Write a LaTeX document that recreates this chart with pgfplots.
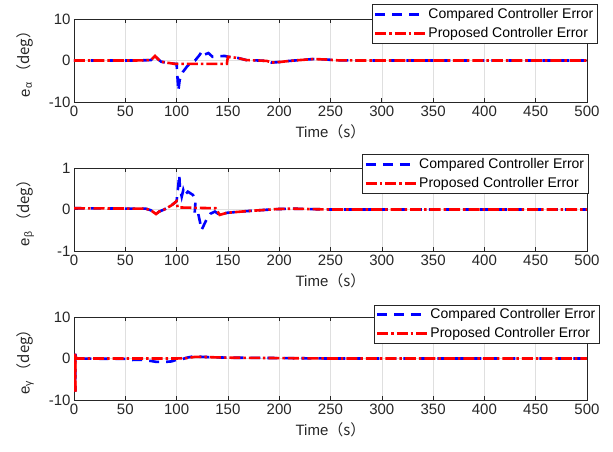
\documentclass[border=0pt]{standalone}
\usepackage{pgfplots}
\pgfplotsset{compat=1.18}
\usepackage{fontspec}
\setmainfont{Liberation Sans}
\newfontfamily\cjk{Noto Sans CJK SC}
\definecolor{axgray}{RGB}{38,38,38}
\definecolor{gridgray}{RGB}{223,223,223}
\pgfplotsset{
  panel/.style={
    scale only axis, width=513pt, height=83pt,
    xmin=0, xmax=500, xtick={0,50,...,500},
    tick align=inside, xmajorgrids, ymajorgrids,
    grid style={gridgray, line width=0.5pt},
    axis line style={axgray, line width=0.6pt},
    tick style={axgray, line width=0.6pt}, major tick length=4pt,
    ticklabel style={font=\fontsize{15}{17}\selectfont, text=axgray},
    /pgf/number format/assume math mode=true,
    xlabel={Time\cjk{（}s\cjk{）}},
    xlabel style={at={(axis description cs:0.5,-0.36)}, anchor=center,
      font=\fontsize{15}{17}\selectfont, text=axgray},
    ylabel style={at={(axis description cs:-0.095,0.5)}, anchor=center,
      font=\fontsize{15}{17}\selectfont, text=axgray},
    legend cell align=left,
    legend image code/.code={\draw[##1] (0pt,0pt) -- (50pt,0pt);},
    legend style={anchor=north west, draw=axgray, fill=white, line width=0.6pt,
      font=\fontsize{14}{17}\selectfont, inner sep=2pt, row sep=3pt},
  },
  cmp/.style={blue, line width=2.6pt, dash pattern=on 10pt off 7pt},
  prop/.style={red, line width=2.6pt, dash pattern=on 11pt off 3pt on 2.5pt off 3pt},
}

\begin{document}
\begin{tikzpicture}
\useasboundingbox (0,0) rectangle (613pt,451pt);

% e_alpha
\begin{axis}[panel, at={(74pt,349pt)}, anchor=south west,
  ymin=-10, ymax=10, ytick={-10,0,10}, yticklabels={-10,0,10},
  ylabel={e\textsubscript{α}\,\cjk{（}deg\cjk{）}},
  legend style={at={(axis description cs:0.58,1.175)}}]
  \addplot[cmp] coordinates {(0,0) (60,0) (75,0.1) (79,1.1) (82,0.3) (85,-0.3) (90,-0.5) (98,-0.8) (100,-0.8) (101.7,-7.3) (103,-4.7) (106,-2.8) (110,-1.5) (113,-0.7) (118,0) (122,1.2) (124.5,2.1) (126,1.3) (128,1.5) (131,1.8) (135,0.9) (140,1.0) (147,1.1) (150,0.9) (160,0.6) (168,0.1) (180,0) (188,-0.1) (192.6,-0.5) (201,-0.35) (210,-0.1) (220,0.1) (233,0.35) (245,0.25) (256,0.05) (280,0) (500,0)};
  \addlegendentry{Compared Controller Error}
  \addplot[prop] coordinates {(0,0) (60,0) (75,0.1) (79,1.1) (82,0.3) (85,-0.3) (90,-0.5) (98,-0.8) (149,-0.8) (150,0.9) (160,0.6) (168,0.1) (180,0) (188,-0.1) (192.6,-0.5) (201,-0.35) (210,-0.1) (220,0.1) (233,0.35) (245,0.25) (256,0.05) (280,0) (500,0)};
  \addlegendentry{Proposed Controller Error}
\end{axis}

% e_beta
\begin{axis}[panel, at={(74pt,200pt)}, anchor=south west,
  ymin=-1, ymax=1, ytick={-1,0,1}, yticklabels={-1,0,1},
  ylabel={e\textsubscript{β}\,\cjk{（}deg\cjk{）}},
  legend style={at={(axis description cs:0.562,1.163)}}]
  \addplot[cmp] coordinates {(0,0.03) (70,0.02) (75,-0.02) (80,-0.11) (83,-0.05) (88,0) (95,0.1) (100,0.2) (101.7,0.59) (102.6,0.83) (103.3,0.51) (105,0.31) (106.5,0.47) (108,0.35) (111,0.43) (116,0.35) (118.5,0.23) (117.5,-0.13) (121,-0.09) (124.4,-0.49) (129,-0.25) (133,-0.1) (137.4,-0.05) (142,-0.13) (149,-0.08) (168,-0.04) (197.5,0.01) (213,0.02) (230,0.01) (250,0) (500,0)};
  \addlegendentry{Compared Controller Error}
  \addplot[prop] coordinates {(0,0.03) (70,0.02) (75,-0.02) (80,-0.11) (83,-0.05) (88,0) (95,0.1) (100,0.2) (101,0.05) (138,0.03) (142,-0.13) (149,-0.08) (168,-0.04) (197.5,0.01) (213,0.02) (230,0.01) (250,0) (500,0)};
  \addlegendentry{Proposed Controller Error}
\end{axis}

% e_gamma
\begin{axis}[panel, at={(74pt,51pt)}, anchor=south west,
  ymin=-10, ymax=10, ytick={-10,0,10}, yticklabels={-10,0,10},
  ylabel={e\textsubscript{γ}\,\cjk{（}deg\cjk{）}},
  legend style={at={(axis description cs:0.584,1.15)}}]
  \addplot[cmp] coordinates {(1,1.2) (1.2,-8) (1.4,1) (2,0) (50,-0.1) (57,-0.35) (65,-0.3) (75,-0.6) (80,-0.8) (90,-0.8) (95,-0.7) (100,-0.3) (105,-0.2) (110,0.2) (116,0.5) (125,0.4) (135,0.3) (150,0.2) (200,0.1) (250,0) (500,0)};
  \addlegendentry{Compared Controller Error}
  \addplot[prop, solid, forget plot] coordinates {(1,1.2) (1.2,-8)};
  \addplot[prop] coordinates {(1.2,-8) (1.4,1) (2,0) (50,0) (100,0) (110,0.1) (118,0.4) (125,0.4) (135,0.3) (150,0.2) (200,0.1) (250,0) (500,0)};
  \addlegendentry{Proposed Controller Error}
\end{axis}
\end{tikzpicture}
\end{document}
